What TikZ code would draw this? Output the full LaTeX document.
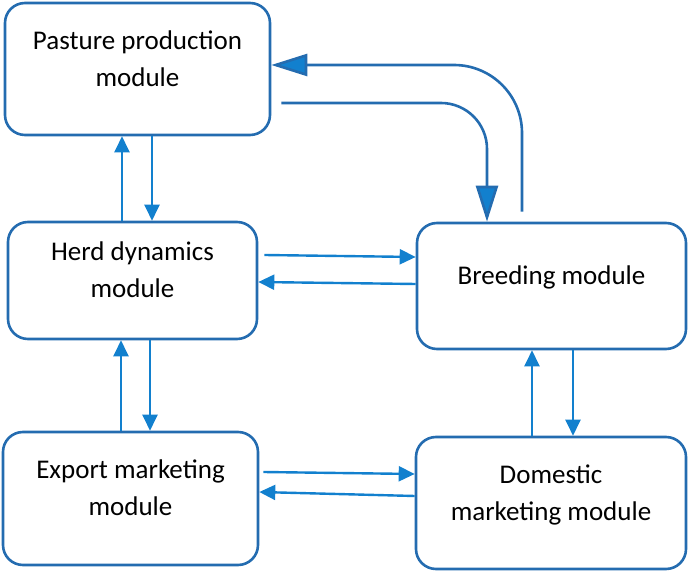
\documentclass[tikz,border=0pt]{standalone}
\usepackage{fontspec}
\setmainfont{Carlito}
\usepackage{xcolor}
\usetikzlibrary{arrows.meta}
\definecolor{boxblue}{RGB}{36,108,176}
\definecolor{arrowblue}{RGB}{18,128,206}

\begin{document}
\begin{tikzpicture}[x=1pt, y=1pt,
  module/.style={draw=boxblue, line width=2.6pt, rounded corners=20pt, align=center, text depth=21pt, font=\fontsize{27}{37}\selectfont},
  flowarrow/.style={arrowblue, line width=2.4pt, -{Triangle[length=16pt, width=15pt]}},
  feedback/.style={boxblue, line width=2.6pt, -{Triangle[length=36pt, width=22pt, fill=arrowblue]}}]
  \useasboundingbox (0,0) rectangle (688,573);
  \node [module, minimum width=265, minimum height=132] (pasture) at (137.5,504) {Pasture production\\module};
  \node [module, minimum width=249, minimum height=117] (herd) at (132.5,292.5) {Herd dynamics\\module};
  \node [module, minimum width=269, minimum height=126] (breeding) at (551.5,287) {Breeding module};
  \node [module, minimum width=255, minimum height=133] (export) at (130.5,74.5) {Export marketing\\module};
  \node [module, minimum width=270, minimum height=132] (domestic) at (551,70) {Domestic\\marketing module};
  \draw [flowarrow] ([xshift=-10.5pt]herd.north)--([xshift=-10.5pt]herd.north |- pasture.south);
  \draw [flowarrow] ([xshift=14.5pt]pasture.south)--([xshift=14.5pt]pasture.south |- herd.north);
  \draw [flowarrow] ([xshift=-9.5pt]export.north)--([xshift=-9.5pt]export.north |- herd.south);
  \draw [flowarrow] ([xshift=17.5pt]herd.south)--([xshift=17.5pt]herd.south |- export.north);
  \draw [flowarrow] ([xshift=-19pt]domestic.north)--([xshift=-19pt]domestic.north |- breeding.south);
  \draw [flowarrow] ([xshift=21.5pt]breeding.south)--([xshift=21.5pt]breeding.south |- domestic.north);
  \draw [flowarrow] ([shift={(6pt,25.5pt)}]herd.east)--([yshift=29pt]breeding.west);
  \draw [flowarrow] ([yshift=2pt]breeding.west)--([yshift=-1.5pt]herd.east);
  \draw [flowarrow] ([shift={(4pt,26.5pt)}]export.east)--([yshift=29pt]domestic.west);
  \draw [flowarrow] ([yshift=7pt]domestic.west)--([yshift=6.5pt]export.east);
  \draw [feedback, rounded corners=46pt] ([shift={(10pt,-34pt)}]pasture.east) -| ([xshift=-64.5pt]breeding.north);
  \draw [feedback, rounded corners=68pt] ([shift={(-29.5pt,10pt)}]breeding.north) |- ([yshift=4pt]pasture.east);
\end{tikzpicture}
\end{document}
